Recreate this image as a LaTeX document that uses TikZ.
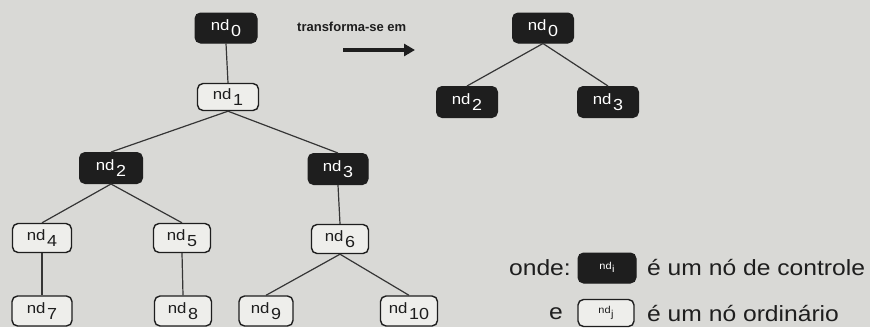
\documentclass[tikz,border=0pt]{standalone}
\usepackage{fontspec}
\setmainfont{Liberation Sans}
\usetikzlibrary{arrows.meta}

\definecolor{paper}{RGB}{217,217,214}
\definecolor{ink}{RGB}{30,30,30}
\definecolor{boxfill}{RGB}{238,238,235}

% node label: "nd" with a lowered index
\newcommand\ndlab[1]{\scalebox{1.12}[1]{\fontsize{15}{15}\selectfont nd\hspace{1.5pt}\raisebox{-6pt}{\fontsize{16}{16}\selectfont #1}}}
\newcommand\ndsmall[1]{\scalebox{1.1}[1]{\fontsize{10}{10}\selectfont nd\hspace{0.5pt}\raisebox{-3.5pt}{\fontsize{10}{10}\selectfont #1}}}
\newcommand\legtext[1]{\scalebox{1.12}[1]{\fontsize{22}{22}\selectfont #1}}

\tikzset{
  ctrl/.style={rounded corners=5.5pt, fill=ink, draw=ink, line width=1pt,
    text=white, inner sep=0pt, minimum width=#1, minimum height=30pt},
  ctrl/.default=61pt,
  ord/.style={rounded corners=5.5pt, fill=boxfill, draw=ink, line width=1.4pt,
    text=ink, inner sep=0pt, minimum width=#1, minimum height=29pt},
  ord/.default=58pt,
  link/.style={draw=ink!90, line width=1.2pt},
  legend/.style={text=ink, inner sep=0pt},
}

\begin{document}
\begin{tikzpicture}[x=1pt,y=-1pt]
  \fill[paper] (0,0) rectangle (870,327);
  \useasboundingbox (0,0) rectangle (870,327);

  % tree before the transformation
  \node[ctrl=62pt] (n0) at (226,28) {\ndlab{0}};
  \node[ord=61pt, minimum height=27pt] (n1) at (228,97) {\ndlab{1}};
  \node[ctrl=63pt, minimum height=31pt] (n2) at (111,168) {\ndlab{2}};
  \node[ctrl=60pt, minimum height=31pt] (n3) at (338,169) {\ndlab{3}};
  \node[ord=59pt] (n4) at (42,238) {\ndlab{4}};
  \node[ord=57pt] (n5) at (182,238) {\ndlab{5}};
  \node[ord=57pt] (n6) at (340,239) {\ndlab{6}};
  \node[ord=60pt, minimum height=30pt] (n7) at (42,311) {\ndlab{7}};
  \node[ord=57pt, minimum height=30pt] (n8) at (183,311) {\ndlab{8}};
  \node[ord=54pt, minimum height=30pt] (n9) at (266,311) {\ndlab{9}};
  \node[ord=57pt, minimum height=30pt] (n10) at (409,311) {\ndlab{10}};

  \draw[link] (n0.south) -- (n1.north);
  \draw[link] (n1.south) -- (n2.north);
  \draw[link] (n1.south) -- (n3.north);
  \draw[link] (n2.south) -- (n4.north);
  \draw[link] (n2.south) -- (n5.north);
  \draw[link] (n3.south) -- (n6.north);
  \draw[link] (n4.south) -- (n7.north);
  \draw[link] (n5.south) -- (n8.north);
  \draw[link] (n6.south) -- (n9.north);
  \draw[link] (n6.south) -- (n10.north);

  % transformation label and arrow
  \node[legend, anchor=west, font=\bfseries\fontsize{13}{13}\selectfont] (tlabel) at (297,27) {transforma-se em};
  \coordinate (arrS) at (343,50);
  \coordinate (arrE) at (415,50);
  \draw[ink, line width=4pt, -{Triangle[length=11pt,width=12pt]}] (arrS) -- (arrE);

  % tree after the transformation
  \node[ctrl=61pt] (r0) at (543,28) {\ndlab{0}};
  \node[ctrl=61pt, minimum height=31pt] (r2) at (467,102) {\ndlab{2}};
  \node[ctrl=61pt, minimum height=31pt] (r3) at (608,102) {\ndlab{3}};
  \draw[link] (r0.south) -- (r2.north);
  \draw[link] (r0.south) -- (r3.north);

  % legend
  \node[legend, anchor=east] (onde) at (571,268) {\legtext{onde:}};
  \node[ctrl=58pt] (lctrl) at (607,268) {\raisebox{5pt}{\ndsmall{i}}};
  \node[legend, anchor=west] (lctrlt) at (647,268) {\legtext{é um nó de controle}};
  \node[legend] (le) at (556,314) {\legtext{e}};
  \node[ord=56pt, minimum height=27pt] (lord) at (606,313) {\raisebox{5pt}{\ndsmall{j}}};
  \node[legend, anchor=west] (lordt) at (647,314) {\legtext{é um nó ordinário}};
\end{tikzpicture}
\end{document}
